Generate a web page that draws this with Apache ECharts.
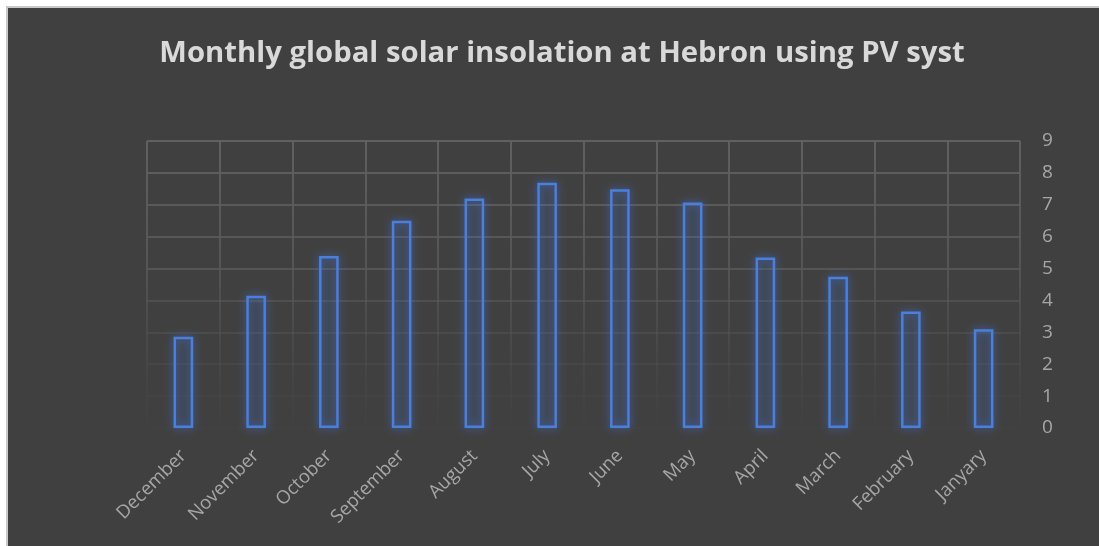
<!DOCTYPE html>
<html>
<head>
<meta charset="utf-8">
<script src="https://cdn.jsdelivr.net/npm/echarts@6/dist/echarts.min.js"></script>
<style>
  html, body { margin: 0; padding: 0; background: #ffffff; }
  #frame { position: absolute; left: 6px; top: 6px; width: 1093px; height: 540px;
           background: #404040; border-left: 2px solid #c9c9c9; border-top: 2px solid #c9c9c9; box-sizing: border-box; }
  #chart { position: absolute; left: 0; top: 0; width: 1099px; height: 546px; }
</style>
</head>
<body>
<div id="frame"></div>
<div id="chart"></div>
<script>
// Monthly global solar insolation (kWh/m²/day), Hebron, PVsyst
const months = ['December', 'November', 'October', 'September', 'August', 'July',
                'June', 'May', 'April', 'March', 'February', 'Janyary'];
const insolation = [2.86, 4.15, 5.39, 6.50, 7.20, 7.69, 7.49, 7.07, 5.35, 4.74, 3.65, 3.10];
const yTicks = { min: 0, max: 9, interval: 1 };

const chart = echarts.init(document.getElementById('chart'), null, { renderer: 'canvas' });

const gridTop = 141, gridBottomPx = 428;
// grid lines fade out toward the baseline
const fadeGrid = {
  type: 'linear', x: 0, y: gridTop, x2: 0, y2: gridBottomPx, global: true,
  colorStops: [
    { offset: 0, color: 'rgba(96,96,96,1)' },
    { offset: 0.45, color: 'rgba(90,90,90,0.8)' },
    { offset: 1, color: 'rgba(75,75,75,0.1)' }
  ]
};

chart.setOption({
  backgroundColor: 'transparent',
  animation: false,
  title: {
    text: 'Monthly global solar insolation at Hebron using PV syst',
    left: 557, top: 34, textAlign: 'center',
    textStyle: { color: '#d9d9d9', fontSize: 29.3, fontWeight: 'bold', fontFamily: 'Open Sans' }
  },
  grid: { left: 147, right: 79, top: gridTop, bottom: 546 - gridBottomPx, containLabel: false },
  xAxis: {
    type: 'category',
    data: months,
    boundaryGap: true,
    axisLine: { show: false },
    axisTick: { show: false },
    splitLine: { show: true, lineStyle: { color: fadeGrid, width: 2 } },
    axisLabel: {
      rotate: 45, interval: 0, margin: 25,
      color: '#a6a6a6', fontSize: 18.5, fontFamily: 'Open Sans'
    }
  },
  yAxis: {
    type: 'value',
    position: 'right',
    min: yTicks.min, max: yTicks.max, interval: yTicks.interval,
    axisLine: { show: false },
    axisTick: { show: false },
    splitLine: { show: true, lineStyle: { color: fadeGrid, width: 2 } },
    axisLabel: { margin: 22, color: '#a6a6a6', fontSize: 19, fontFamily: 'Open Sans' }
  },
  series: [{
    type: 'bar',
    data: insolation,
    barWidth: '27%',
    itemStyle: {
      color: 'rgba(68,114,196,0.08)',
      borderColor: '#4a7fdc',
      borderWidth: 2.5,
      shadowColor: 'rgba(68,114,220,0.85)',
      shadowBlur: 9
    }
  }]
});
</script>
</body>
</html>
